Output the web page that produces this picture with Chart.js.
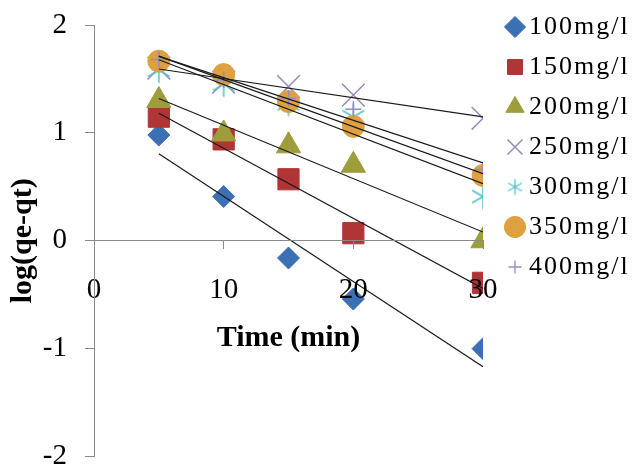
<!DOCTYPE html>
<html>
<head>
<meta charset="utf-8">
<script src="https://cdn.jsdelivr.net/npm/chart.js@4"></script>
<style>
  html, body { margin: 0; padding: 0; background: #ffffff; }
  canvas { display: block; }
</style>
</head>
<body>
<canvas id="chart" width="636" height="474"></canvas>
<script>
// Sampling times (min)
const times = [5, 10, 15, 20, 30];

// Initial concentrations
const concentrations = ['100mg/l', '150mg/l', '200mg/l', '250mg/l', '300mg/l', '350mg/l', '400mg/l'];

// log(qe - qt) for each concentration
const series100 = [0.98, 0.41, -0.16, -0.54, -1.0];
const series150 = [1.15, 0.94, 0.57, 0.07, -0.39];
const series200 = [1.30, 0.99, 0.88, 0.70, 0.0];
const series250 = [1.60, 1.47, 1.43, 1.35, 1.135];
const series300 = [1.58, 1.45, 1.27, 1.15, 0.41];
const series350 = [1.665, 1.54, 1.29, 1.06, 0.605];
const series400 = [1.68, 1.49, 1.32, 1.22, 0.66];

// Axis ticks
const xTicks = [0, 10, 20, 30];
const yTicks = [-2, -1, 0, 1, 2];

const allSeries = [series100, series150, series200, series250, series300, series350, series400];

const SERIF = "'Liberation Serif', 'Times New Roman', serif";
const AXIS_GREY = '#8a8a8a';

// Six-armed asterisk marker
function asteriskMarker(radius, color, lineWidth) {
  const size = Math.ceil(radius * 2 + lineWidth * 2);
  const c = document.createElement('canvas');
  c.width = c.height = size;
  const g = c.getContext('2d');
  g.strokeStyle = color;
  g.lineWidth = lineWidth;
  const m = size / 2;
  g.beginPath();
  for (let k = 0; k < 3; k++) {
    const a = Math.PI / 2 + k * Math.PI / 3;
    g.moveTo(m + Math.cos(a) * radius, m - Math.sin(a) * radius);
    g.lineTo(m - Math.cos(a) * radius, m + Math.sin(a) * radius);
  }
  g.stroke();
  return c;
}

// Plain plus marker (used at legend size)
function plusMarker(radius, color, lineWidth) {
  const size = Math.ceil(radius * 2 + lineWidth * 2);
  const c = document.createElement('canvas');
  c.width = c.height = size;
  const g = c.getContext('2d');
  g.strokeStyle = color;
  g.lineWidth = lineWidth;
  const m = size / 2;
  g.beginPath();
  g.moveTo(m, m - radius); g.lineTo(m, m + radius);
  g.moveTo(m - radius, m); g.lineTo(m + radius, m);
  g.stroke();
  return c;
}

const TEAL = '#4fc2c8';
const LAVENDER = '#8f8ec4';

// Marker styling per concentration
const markerStyles = [
  { style: 'rectRot',  radius: 11, color: '#3b70b5', width: 1 },
  { style: 'rect',     radius: 15, color: '#b03536', width: 1 },
  { style: 'triangle', radius: 14, color: '#9d9d3c', width: 1 },
  { style: 'crossRot', radius: 16, color: '#9a88bb', width: 1.5 },
  { style: asteriskMarker(12.5, TEAL, 1.5), radius: 12, color: TEAL, width: 1.5 },
  { style: 'circle',   radius: 11, color: '#dfa03f', width: 1 },
  { style: 'cross',    radius: 8,  color: LAVENDER, width: 1.5 },
];

// Smaller replacements for legend swatches drawn from canvases
const legendMarkers = {
  4: asteriskMarker(8, TEAL, 1.3),
  6: plusMarker(6.5, LAVENDER, 1.3),
};

// Least-squares straight line through a series, evaluated at the first and last time
function linearTrend(xs, ys) {
  const n = xs.length;
  const mx = xs.reduce((a, b) => a + b, 0) / n;
  const my = ys.reduce((a, b) => a + b, 0) / n;
  let sxy = 0, sxx = 0;
  for (let i = 0; i < n; i++) {
    sxy += (xs[i] - mx) * (ys[i] - my);
    sxx += (xs[i] - mx) * (xs[i] - mx);
  }
  const slope = sxy / sxx;
  const icpt = my - slope * mx;
  const x0 = xs[0], x1 = xs[n - 1];
  return [{ x: x0, y: icpt + slope * x0 }, { x: x1, y: icpt + slope * x1 }];
}

const N = concentrations.length;

const pointDatasets = allSeries.map((vals, i) => ({
  label: concentrations[i],
  data: times.map((t, j) => ({ x: t, y: vals[j] })),
  pointStyle: markerStyles[i].style,
  pointRadius: markerStyles[i].radius,
  backgroundColor: markerStyles[i].color,
  borderColor: markerStyles[i].color,
  borderWidth: markerStyles[i].width,
  showLine: false,
  order: N - i,
}));

const trendDatasets = allSeries.map((vals, i) => ({
  label: concentrations[i] + ' trend',
  data: linearTrend(times, vals),
  showLine: true,
  pointRadius: 0,
  borderColor: '#1a1a1a',
  borderWidth: 1.2,
  fill: false,
  order: 0,
}));

// Legend text is set a little wider than the rest of the chart text
const legendSpacing = {
  id: 'legendSpacing',
  beforeDraw(chart) { chart.ctx.letterSpacing = '2px'; },
  beforeDatasetsDraw(chart) { chart.ctx.letterSpacing = '0px'; },
};

// Leave a gap between the plot and the legend column, and let it run to the edge
const legendGap = {
  id: 'legendGap',
  afterLayout(chart) {
    const lg = chart.legend;
    if (lg) {
      lg.left += 17;
      lg.right = chart.width;
      lg.width = lg.right - lg.left;
    }
  },
};

new Chart(document.getElementById('chart'), {
  type: 'scatter',
  data: { datasets: pointDatasets.concat(trendDatasets) },
  plugins: [legendSpacing, legendGap],
  options: {
    responsive: false,
    animation: false,
    events: [],
    layout: { padding: { top: 0, right: 0, bottom: 0, left: 0 } },
    plugins: {
      tooltip: { enabled: false },
      legend: {
        position: 'right',
        align: 'start',
        labels: {
          usePointStyle: true,
          boxWidth: 2,
          boxHeight: 15,
          padding: 14,
          color: '#000000',
          font: { family: SERIF, size: 26 },
          filter: (item) => item.datasetIndex < N,
          sort: (a, b) => a.datasetIndex - b.datasetIndex,
          generateLabels(chart) {
            const items = Chart.defaults.plugins.legend.labels.generateLabels(chart);
            items.forEach((it) => {
              if (legendMarkers[it.datasetIndex]) it.pointStyle = legendMarkers[it.datasetIndex];
            });
            return items;
          },
        },
      },
    },
    scales: {
      x: {
        type: 'linear',
        position: { y: 0 },
        min: xTicks[0],
        max: xTicks[xTicks.length - 1],
        afterBuildTicks: (s) => { s.ticks = xTicks.map((v) => ({ value: v })); },
        afterFit: (s) => { s.height = 115; s.paddingRight = 153; },
        ticks: {
          padding: 24,
          color: '#000000',
          font: { family: SERIF, size: 29 },
          maxRotation: 0,
          autoSkip: false,
          z: 1,
        },
        grid: { drawOnChartArea: false, drawTicks: true, tickLength: 8, color: AXIS_GREY, z: 1 },
        border: { display: true, color: AXIS_GREY, width: 1, z: 1 },
        title: {
          display: true,
          text: 'Time (min)',
          color: '#000000',
          font: { family: SERIF, size: 30, weight: 'bold' },
          padding: 0,
        },
      },
      y: {
        type: 'linear',
        position: 'left',
        min: yTicks[0],
        max: yTicks[yTicks.length - 1],
        afterBuildTicks: (s) => { s.ticks = yTicks.map((v) => ({ value: v })); },
        afterFit: (s) => { s.width = 94; s.paddingTop = 25; s.paddingBottom = 10; },
        ticks: {
          padding: 18,
          color: '#000000',
          font: { family: SERIF, size: 29 },
          z: 1,
        },
        grid: { drawOnChartArea: false, drawTicks: true, tickLength: 9, color: AXIS_GREY, z: 1 },
        border: { display: true, color: AXIS_GREY, width: 1, z: 1 },
        title: {
          display: true,
          text: 'log(qe-qt)',
          color: '#000000',
          font: { family: SERIF, size: 30, weight: 'bold' },
          padding: { top: 5, bottom: 0 },
        },
      },
    },
  },
});
</script>
</body>
</html>
